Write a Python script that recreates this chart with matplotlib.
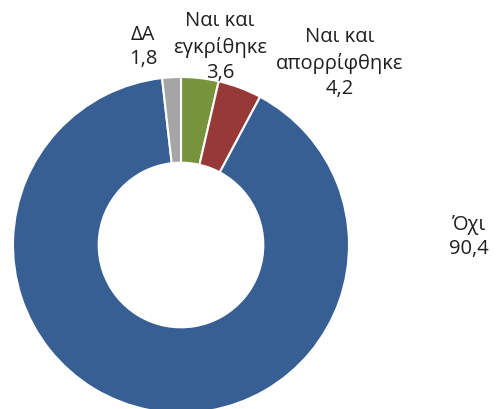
import matplotlib
matplotlib.use("Agg")
import matplotlib.pyplot as plt

categories = ["Ναι και\nεγκρίθηκε", "Ναι και\nαπορρίφθηκε", "Όχι", "ΔΑ"]
values = [3.6, 4.2, 90.4, 1.8]
colors = ["#77933C", "#973A37", "#375F93", "#A5A5A5"]

plt.rcParams["font.family"] = ["Open Sans", "DejaVu Sans"]

W, H = 497, 409
fig = plt.figure(figsize=(W / 100, H / 100), dpi=100)
ax = fig.add_axes([0, 0, 1, 1])

cx, cy = 181, H - 245
R = 168
ax.pie(values, colors=colors, startangle=90, counterclock=False,
       center=(cx, cy), radius=R, frame=True,
       wedgeprops=dict(width=R * 0.51, edgecolor="white", linewidth=1.5))
ax.set_xlim(0, W)
ax.set_ylim(0, H)
ax.set_aspect("equal")
ax.axis("off")

# label positions (pixel coords from top)
label_pos = [(220, 47), (340, 63), (469, 237), (143, 47)]
for cat, v, (x, y) in zip(categories, values, label_pos):
    txt = f"{cat}\n{v:.1f}".replace(".", ",")
    ax.text(x, H - y, txt, ha="center", va="center", fontsize=14.5,
            color="#1F1F1F", linespacing=1.33)

fig.savefig("out.png", dpi=100, facecolor="white")
